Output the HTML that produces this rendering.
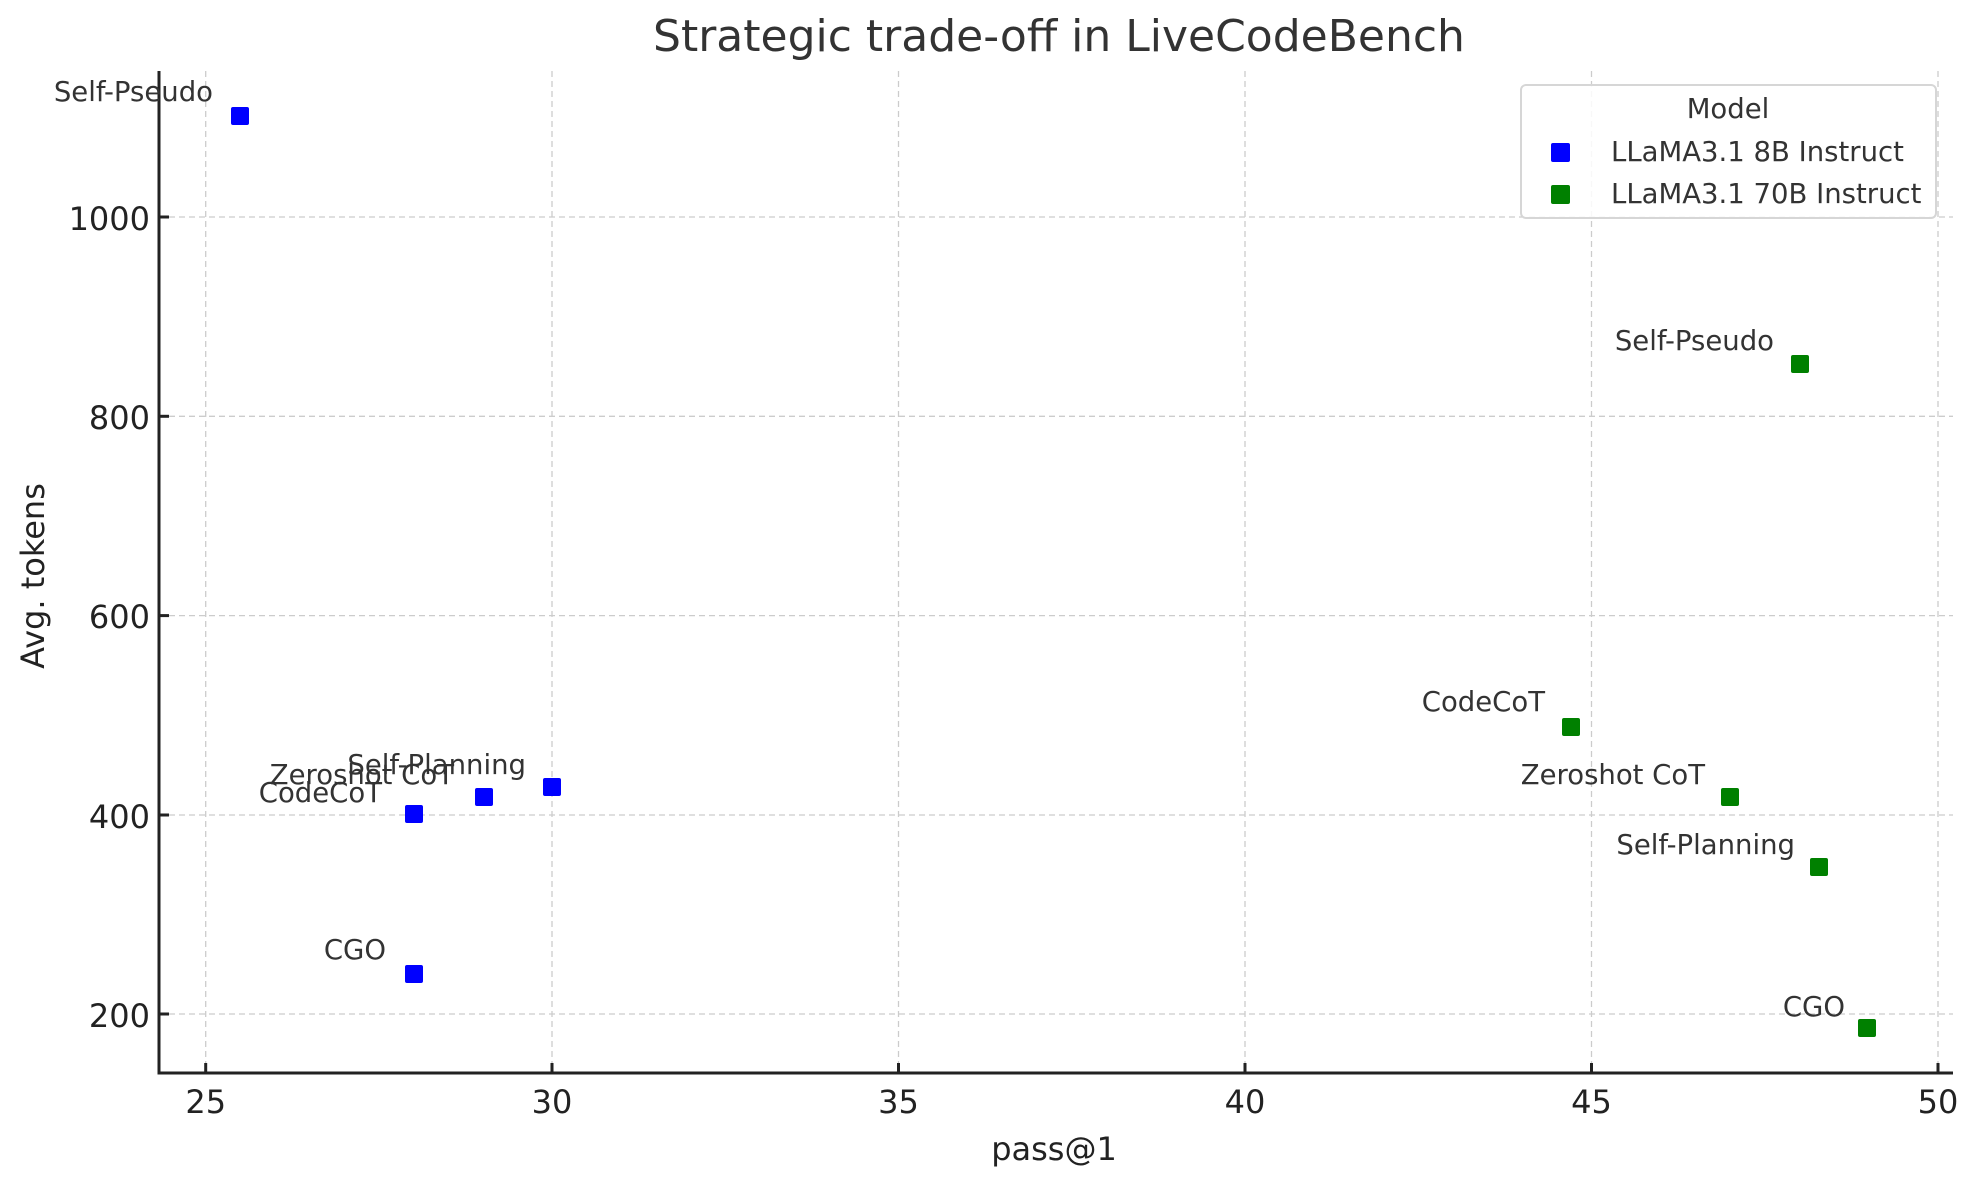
<!DOCTYPE html>
<html><head><meta charset="utf-8"><style>
html,body{margin:0;padding:0;background:#fff}
svg{display:block;font-family:"DejaVu Sans","Liberation Sans",sans-serif}
</style></head><body>
<svg width="1978" height="1180" viewBox="0 0 1978 1180" xmlns="http://www.w3.org/2000/svg">
<rect width="1978" height="1180" fill="#fff"/>
<g stroke="#cccccc" stroke-width="1.3" stroke-dasharray="6,4">
<line x1="205.7" y1="71" x2="205.7" y2="1073"/>
<line x1="552" y1="71" x2="552" y2="1073"/>
<line x1="898.5" y1="71" x2="898.5" y2="1073"/>
<line x1="1245" y1="71" x2="1245" y2="1073"/>
<line x1="1591.5" y1="71" x2="1591.5" y2="1073"/>
<line x1="1938" y1="71" x2="1938" y2="1073"/>
<line x1="159" y1="1014" x2="1953" y2="1014"/>
<line x1="159" y1="815" x2="1953" y2="815"/>
<line x1="159" y1="615.6" x2="1953" y2="615.6"/>
<line x1="159" y1="416.3" x2="1953" y2="416.3"/>
<line x1="159" y1="217" x2="1953" y2="217"/>
</g>
<g stroke="#222" stroke-width="3">
<line x1="159" y1="71" x2="159" y2="1074.5"/>
<line x1="157.5" y1="1073" x2="1953" y2="1073"/>
<line x1="205.7" y1="1073" x2="205.7" y2="1063"/>
<line x1="552" y1="1073" x2="552" y2="1063"/>
<line x1="898.5" y1="1073" x2="898.5" y2="1063"/>
<line x1="1245" y1="1073" x2="1245" y2="1063"/>
<line x1="1591.5" y1="1073" x2="1591.5" y2="1063"/>
<line x1="1938" y1="1073" x2="1938" y2="1063"/>
<line x1="159" y1="1014" x2="169" y2="1014"/>
<line x1="159" y1="815" x2="169" y2="815"/>
<line x1="159" y1="615.6" x2="169" y2="615.6"/>
<line x1="159" y1="416.3" x2="169" y2="416.3"/>
<line x1="159" y1="217" x2="169" y2="217"/>
</g>
<g font-size="32" fill="#222" text-anchor="middle">
<text x="205.7" y="1113">25</text>
<text x="552" y="1113">30</text>
<text x="898.5" y="1113">35</text>
<text x="1245" y="1113">40</text>
<text x="1591.5" y="1113">45</text>
<text x="1938" y="1113">50</text>
</g>
<g font-size="32" fill="#222" text-anchor="end" dominant-baseline="central">
<text x="150" y="1016">200</text>
<text x="150" y="817">400</text>
<text x="150" y="617">600</text>
<text x="150" y="418">800</text>
<text x="150" y="219">1000</text>
</g>
<text x="1059" y="51" font-size="44" fill="#333" text-anchor="middle">Strategic trade-off in LiveCodeBench</text>
<text x="1054" y="1160" font-size="32" fill="#222" text-anchor="middle">pass@1</text>
<text transform="translate(44,576) rotate(-90)" font-size="32" fill="#222" text-anchor="middle">Avg. tokens</text>
<g fill="#0000ff">
<rect x="231" y="107" width="18" height="18" rx="2"/>
<rect x="405" y="805" width="18" height="18" rx="2"/>
<rect x="475" y="788" width="18" height="18" rx="2"/>
<rect x="543" y="778" width="18" height="18" rx="2"/>
<rect x="405" y="965" width="18" height="18" rx="2"/>
</g>
<g fill="#008000">
<rect x="1791" y="355" width="18" height="18" rx="2"/>
<rect x="1562" y="718" width="18" height="18" rx="2"/>
<rect x="1721" y="788" width="18" height="18" rx="2"/>
<rect x="1810" y="858" width="18" height="18" rx="2"/>
<rect x="1858" y="1019" width="18" height="18" rx="2"/>
</g>
<g font-size="27.5" fill="#333" text-anchor="end" dominant-baseline="central">
<text x="213" y="92">Self-Pseudo</text>
<text x="454" y="775">Zeroshot CoT</text>
<text x="526" y="765">Self-Planning</text>
<text x="382" y="793">CodeCoT</text>
<text x="386" y="950">CGO</text>
<text x="1774" y="341">Self-Pseudo</text>
<text x="1545" y="702">CodeCoT</text>
<text x="1705" y="775">Zeroshot CoT</text>
<text x="1795" y="845">Self-Planning</text>
<text x="1845" y="1007">CGO</text>
</g>
<rect x="1521" y="85" width="415" height="133" rx="5" fill="#fff" fill-opacity="0.85" stroke="#d6d6d6" stroke-width="2"/>
<text x="1728" y="118" font-size="27.5" fill="#333" text-anchor="middle">Model</text>
<rect x="1551" y="143" width="19" height="19" rx="2" fill="#0000ff"/>
<rect x="1551" y="185" width="19" height="19" rx="2" fill="#008000"/>
<g font-size="27.5" fill="#333">
<text x="1611" y="161">LLaMA3.1 8B Instruct</text>
<text x="1611" y="203">LLaMA3.1 70B Instruct</text>
</g>
</svg>
</body></html>
